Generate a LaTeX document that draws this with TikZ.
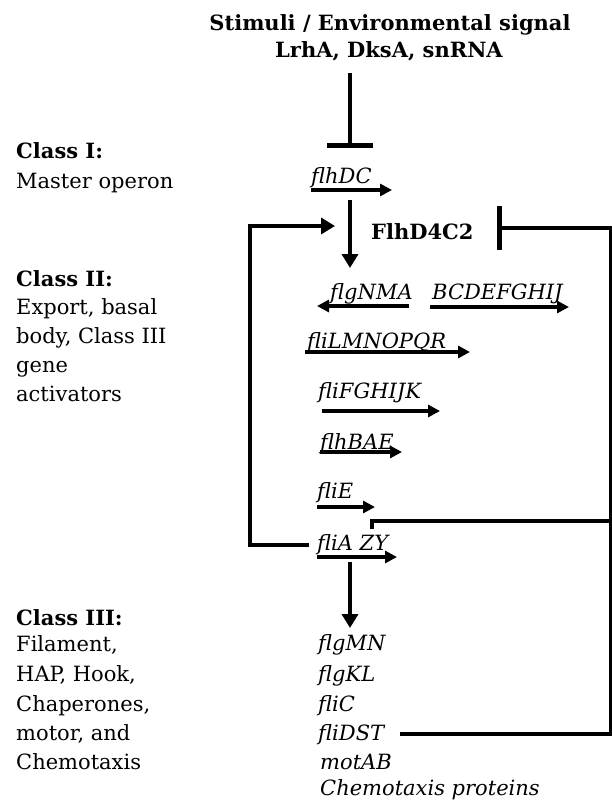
\documentclass[tikz,border=0pt]{standalone}
\usepackage{fontspec}
\setmainfont{DejaVu Serif}
\usetikzlibrary{arrows.meta}
\begin{document}
\begin{tikzpicture}[x=1pt,y=-1pt,
  lbl/.style={font=\fontsize{21}{29}\selectfont, anchor=base west, inner sep=0pt},
  lblb/.style={lbl, font=\fontsize{21}{29}\selectfont\bfseries},
  gene/.style={font=\fontsize{21}{29}\selectfont\itshape, anchor=base west, inner sep=0pt},
  ttl/.style={font=\fontsize{21}{26}\selectfont\bfseries, anchor=base, inner sep=0pt},
  garrow/.style={line width=3.8pt, -{Triangle[length=12pt,width=12pt]}},
  bigline/.style={line width=4.6pt},
  downarrow/.style={bigline, -{Triangle[length=14pt,width=16pt]}},
  inhib/.style={bigline, -{Bar[width=46pt]}}]
\useasboundingbox (0,0) rectangle (612,801);

% title
\node[ttl] (t1) at (390,30) {Stimuli / Environmental signal};
\node[ttl] (t2) at (389,57) {LrhA, DksA, snRNA};

% left labels
\node[lblb] (c1) at (16,158) {Class I:};
\node[lbl] (c1a) at (16,188) {Master operon};
\node[lblb] (c2) at (16,286) {Class II:};
\node[lbl] (c2a) at (16,314) {Export, basal};
\node[lbl] (c2b) at (16,343) {body, Class III};
\node[lbl] (c2c) at (16,372) {gene};
\node[lbl] (c2d) at (16,401) {activators};
\node[lblb] (c3) at (16,625) {Class III:};
\node[lbl] (c3a) at (16,651) {Filament,};
\node[lbl] (c3b) at (16,681) {HAP, Hook,};
\node[lbl] (c3c) at (16,711) {Chaperones,};
\node[lbl] (c3d) at (16,740) {motor, and};
\node[lbl] (c3e) at (16,769) {Chemotaxis};

% class I
\node[gene] (flhDC) at (311,183) {flhDC};
\node[font=\fontsize{21}{26}\selectfont\bfseries, anchor=base west, inner sep=0pt] (flhD4C2) at (371,239) {FlhD4C2};

% class II genes
\node[gene] (flgNMA) at (330,299) {flgNMA};
\node[gene] (bcd) at (432,299) {BCDEFGHIJ};
\node[gene] (fliL) at (307,348) {fliLMNOPQR};
\node[gene] (fliF) at (318,398) {fliFGHIJK};
\node[gene] (flhB) at (320,449) {flhBAE};
\node[gene] (fliE) at (317,498) {fliE};
\node[gene] (fliA) at (317,550) {fliA ZY};

% class III genes
\node[gene] (flgMN) at (318,650) {flgMN};
\node[gene] (flgKL) at (318,681) {flgKL};
\node[gene] (fliC) at (318,711) {fliC};
\node[gene] (fliDST) at (318,740) {fliDST};
\node[gene] (motAB) at (320,769) {motAB};
\node[gene] (chemo) at (320,795) {Chemotaxis proteins};

% gene direction arrows
\draw[garrow] (311,190) -- (392,190);
\draw[garrow] (409,306) -- (317,306);
\draw[garrow] (430,307) -- (569,307);
\draw[garrow] (305,352) -- (470,352);
\draw[garrow] (322,411) -- (440,411);
\draw[garrow] (320,452) -- (402,452);
\draw[garrow] (317,507) -- (375,507);
\draw[garrow] (317,557) -- (397,557);

% signal inhibition
\coordinate (sigtop) at (350,73);
\coordinate (sigbar) at (350,148);
\draw[inhib] (sigtop) -- (sigbar);

% flhDC -> class II
\coordinate (d1a) at (350,200);
\coordinate (d1b) at (350,268);
\draw[downarrow] (d1a) -- (d1b);

% fliA -> class III
\coordinate (d2a) at (350,562);
\coordinate (d2b) at (350,628);
\draw[downarrow] (d2a) -- (d2b);

% left feedback loop fliA -> FlhD4C2
\coordinate (fbstart) at (309,545);
\coordinate (fbend) at (335,226);
\draw[bigline, -{Triangle[length=14pt,width=16pt]}] (fbstart) -- (250,545) -- (250,226) -- (fbend);

% right negative feedback fliDST -> FlhD4C2
\coordinate (rstart) at (400,734);
\coordinate (rbar) at (497,228);
\draw[bigline, -{Bar[width=44pt]}] (rstart) -- (611,734) -- (611,228) -- (rbar);

% fliA to right line
\coordinate (fliAtick) at (372,529);
\draw[bigline] (fliAtick) |- (611,521);
\end{tikzpicture}
\end{document}
